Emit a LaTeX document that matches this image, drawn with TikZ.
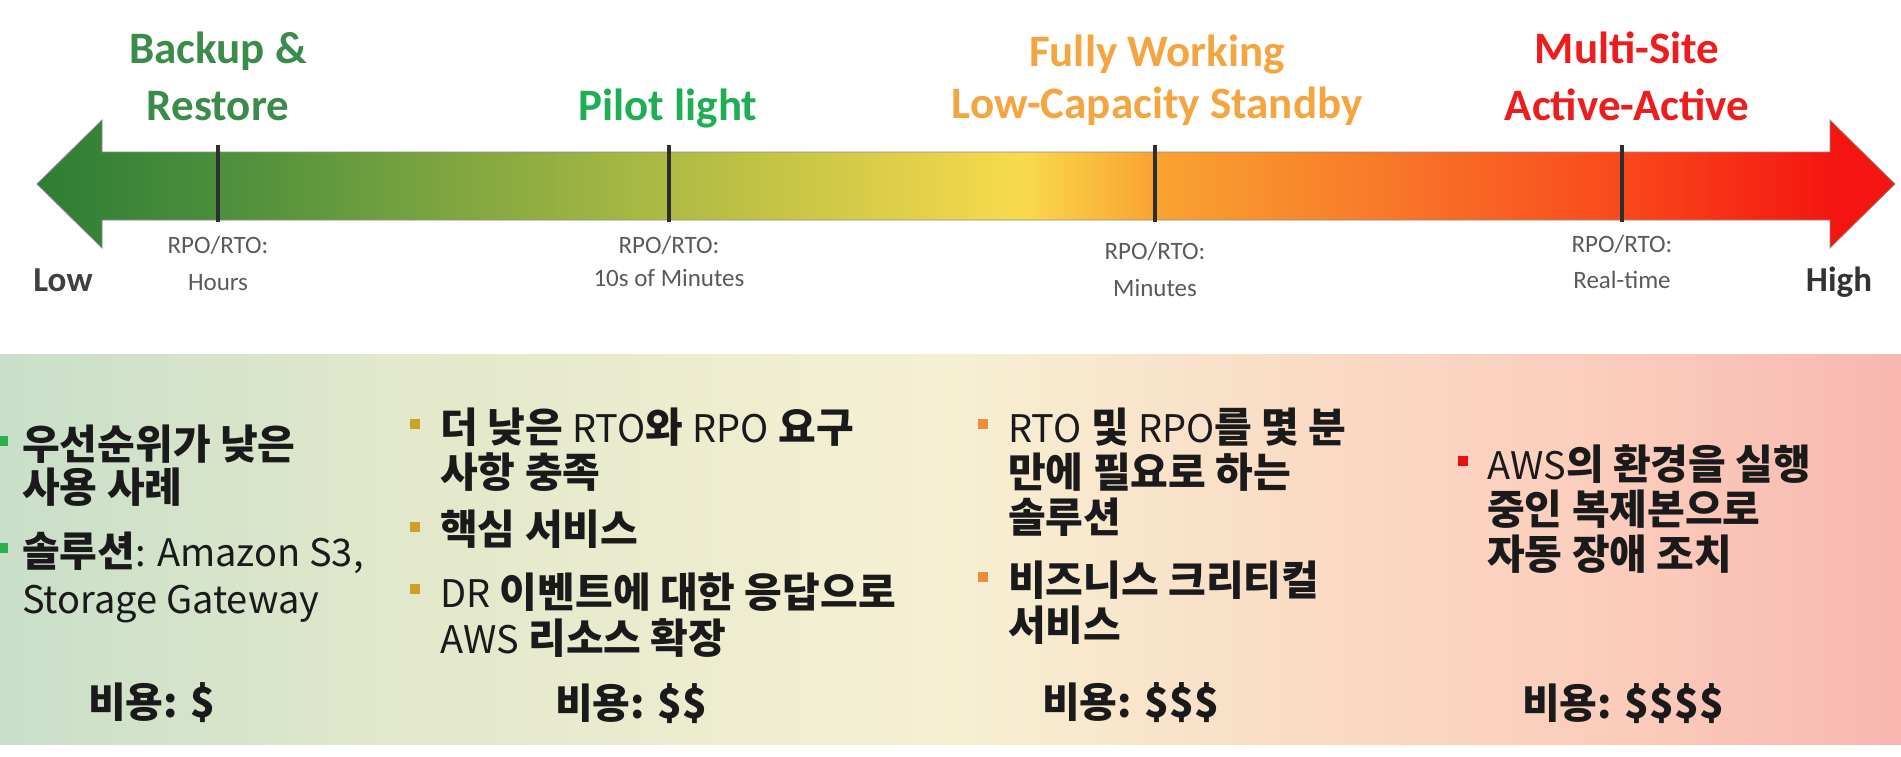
\documentclass[tikz,border=0pt]{standalone}
\usepackage{fontspec}
\setmainfont{Carlito}
\newfontfamily\kr{Noto Sans CJK KR}
\definecolor{ag1}{HTML}{2E7D34}
\definecolor{ag2}{HTML}{4C8F3C}
\definecolor{ag3}{HTML}{AAB943}
\definecolor{ag4}{HTML}{F9DA4C}
\definecolor{ag5}{HTML}{F9A431}
\definecolor{ag6}{HTML}{F87A2A}
\definecolor{ag7}{HTML}{F94A1C}
\definecolor{ag8}{HTML}{F41410}
\definecolor{pp1}{HTML}{C9DFC9}
\definecolor{pp2}{HTML}{E2E8CB}
\definecolor{pp3}{HTML}{F6F0D3}
\definecolor{pp4}{HTML}{FADCC5}
\definecolor{pp5}{HTML}{FBCBBB}
\definecolor{pp6}{HTML}{F8B7B0}
\definecolor{tgreen}{HTML}{3B8B4B}
\definecolor{tpilot}{HTML}{1FAE55}
\definecolor{torange}{HTML}{F4A53F}
\definecolor{tred}{HTML}{EE1D1D}
\definecolor{rpogray}{HTML}{5A5A5A}
\definecolor{bodyk}{HTML}{1A1A1A}
\definecolor{bgreen}{HTML}{2DB04B}
\definecolor{bgold}{HTML}{C9A227}
\definecolor{borange}{HTML}{F08A3C}
\definecolor{bred}{HTML}{E81010}
\pgfdeclarehorizontalshading{arrowshade}{100bp}{color(0bp)=(ag1); color(25bp)=(ag1); color(30bp)=(ag2); color(41.5bp)=(ag3); color(51.5bp)=(ag4); color(55bp)=(ag5); color(61bp)=(ag6); color(67.5bp)=(ag7); color(73.5bp)=(ag8); color(100bp)=(ag8)}
\pgfdeclarehorizontalshading{panelshade}{100bp}{color(0bp)=(pp1); color(25bp)=(pp1); color(35.5bp)=(pp2); color(50bp)=(pp3); color(59bp)=(pp4); color(68bp)=(pp5); color(75bp)=(pp6); color(100bp)=(pp6)}
\newcommand\lt[1]{{\mdseries\fontsize{38}{44}\selectfont #1}}
\tikzset{
  title/.style={font=\fontsize{45}{52}\selectfont\bfseries, inner sep=0pt, text height=34pt, text depth=4pt},
  rpo/.style={font=\fontsize{25}{30}\selectfont, text=rpogray, inner sep=0pt, text height=18pt, text depth=3pt},
  lowhigh/.style={font=\fontsize{35}{40}\selectfont\bfseries, inner sep=0pt, text height=25pt, text depth=3pt},
  ln/.style={font=\kr\fontsize{41}{48}\selectfont\bfseries, text=bodyk, anchor=west, inner sep=0pt, text height=36pt, text depth=5pt},
  bul/.style={rectangle, minimum size=10pt, inner sep=0pt},
  tickline/.style={draw=black!82, line width=3.5pt}
}
\begin{document}
\begin{tikzpicture}[x=1pt,y=-1pt]
\useasboundingbox (0,0) rectangle (1901,756);
% bottom panel
\shade[shading=panelshade] (0,354) rectangle (1901,744);
% arrow
\shade[shading=arrowshade, draw=black!45, line width=0.8pt]
  (37,184) -- (102,120) -- (102,152) -- (1830,152) -- (1830,120) -- (1895,184)
  -- (1830,248) -- (1830,220) -- (102,220) -- (102,248) -- cycle;
% ticks
\draw[tickline] (218,145) -- (218,222);
\draw[tickline] (669,145) -- (669,222);
\draw[tickline] (1155,145) -- (1155,222);
\draw[tickline] (1622,145) -- (1622,222);
% titles
\node[title, text=tgreen] (t1a) at (218,48) {Backup \&};
\node[title, text=tgreen] (t1b) at (218,105) {Restore};
\node[title, text=tpilot] (t2) at (668,105) {Pilot light};
\node[title, text=torange] (t3a) at (1157,51) {Fully Working};
\node[title, text=torange] (t3b) at (1157,103) {Low-Capacity Standby};
\node[title, text=tred] (t4a) at (1627,48) {Multi-Site};
\node[title, text=tred] (t4b) at (1627,105) {Active-Active};
% rpo labels
\node[rpo] (r1a) at (218,246) {RPO/RTO:};
\node[rpo] (r1b) at (218,283) {Hours};
\node[rpo] (r2a) at (669,246) {RPO/RTO:};
\node[rpo] (r2b) at (669,279) {10s of Minutes};
\node[rpo] (r3a) at (1155,252) {RPO/RTO:};
\node[rpo] (r3b) at (1155,289) {Minutes};
\node[rpo] (r4a) at (1622,245) {RPO/RTO:};
\node[rpo] (r4b) at (1622,281) {Real-time};
\node[lowhigh, text=black!75] (low) at (63,280) {Low};
\node[lowhigh, text=black!80] (high) at (1839,280) {High};
% column 1
\node[bul, fill=bgreen] (b1a) at (3,441) {};
\node[ln] (c1a) at (22,444) {우선순위가 낮은};
\node[ln] (c1b) at (22,487) {사용 사례};
\node[bul, fill=bgreen] (b1b) at (3,548) {};
\node[ln] (c1c) at (22,551) {솔루션\lt{: Amazon S3,}};
\node[ln] (c1d) at (22,598) {\lt{Storage Gateway}};
% column 2
\node[bul, fill=bgold] (b2a) at (415,424) {};
\node[ln] (c2a) at (440,427) {더 낮은 \lt{RTO}와 \lt{RPO} 요구};
\node[ln] (c2b) at (440,472) {사항 충족};
\node[bul, fill=bgold] (b2b) at (415,527) {};
\node[ln] (c2c) at (440,529) {핵심 서비스};
\node[bul, fill=bgold] (b2c) at (415,589) {};
\node[ln] (c2d) at (440,592) {\lt{DR} 이벤트에 대한 응답으로};
\node[ln] (c2e) at (440,638) {\lt{AWS} 리소스 확장};
% column 3
\node[bul, fill=borange] (b3a) at (983,424) {};
\node[ln] (c3a) at (1008,427) {\lt{RTO} 및 \lt{RPO}를 몇 분};
\node[ln] (c3b) at (1008,472) {만에 필요로 하는};
\node[ln] (c3c) at (1008,517) {솔루션};
\node[bul, fill=borange] (b3b) at (983,577) {};
\node[ln] (c3d) at (1008,580) {비즈니스 크리티컬};
\node[ln] (c3e) at (1008,625) {서비스};
% column 4
\node[bul, fill=bred] (b4a) at (1463,461) {};
\node[ln] (c4a) at (1487,464) {\lt{AWS}의 환경을 실행};
\node[ln] (c4b) at (1487,509) {중인 복제본으로};
\node[ln] (c4c) at (1487,554) {자동 장애 조치};
% costs
\node[ln] (k1) at (88,702) {비용: \$};
\node[ln] (k2) at (555,703) {비용: \$\$};
\node[ln] (k3) at (1042,702) {비용: \$\$\$};
\node[ln] (k4) at (1522,703) {비용: \$\$\$\$};
\end{tikzpicture}
\end{document}
